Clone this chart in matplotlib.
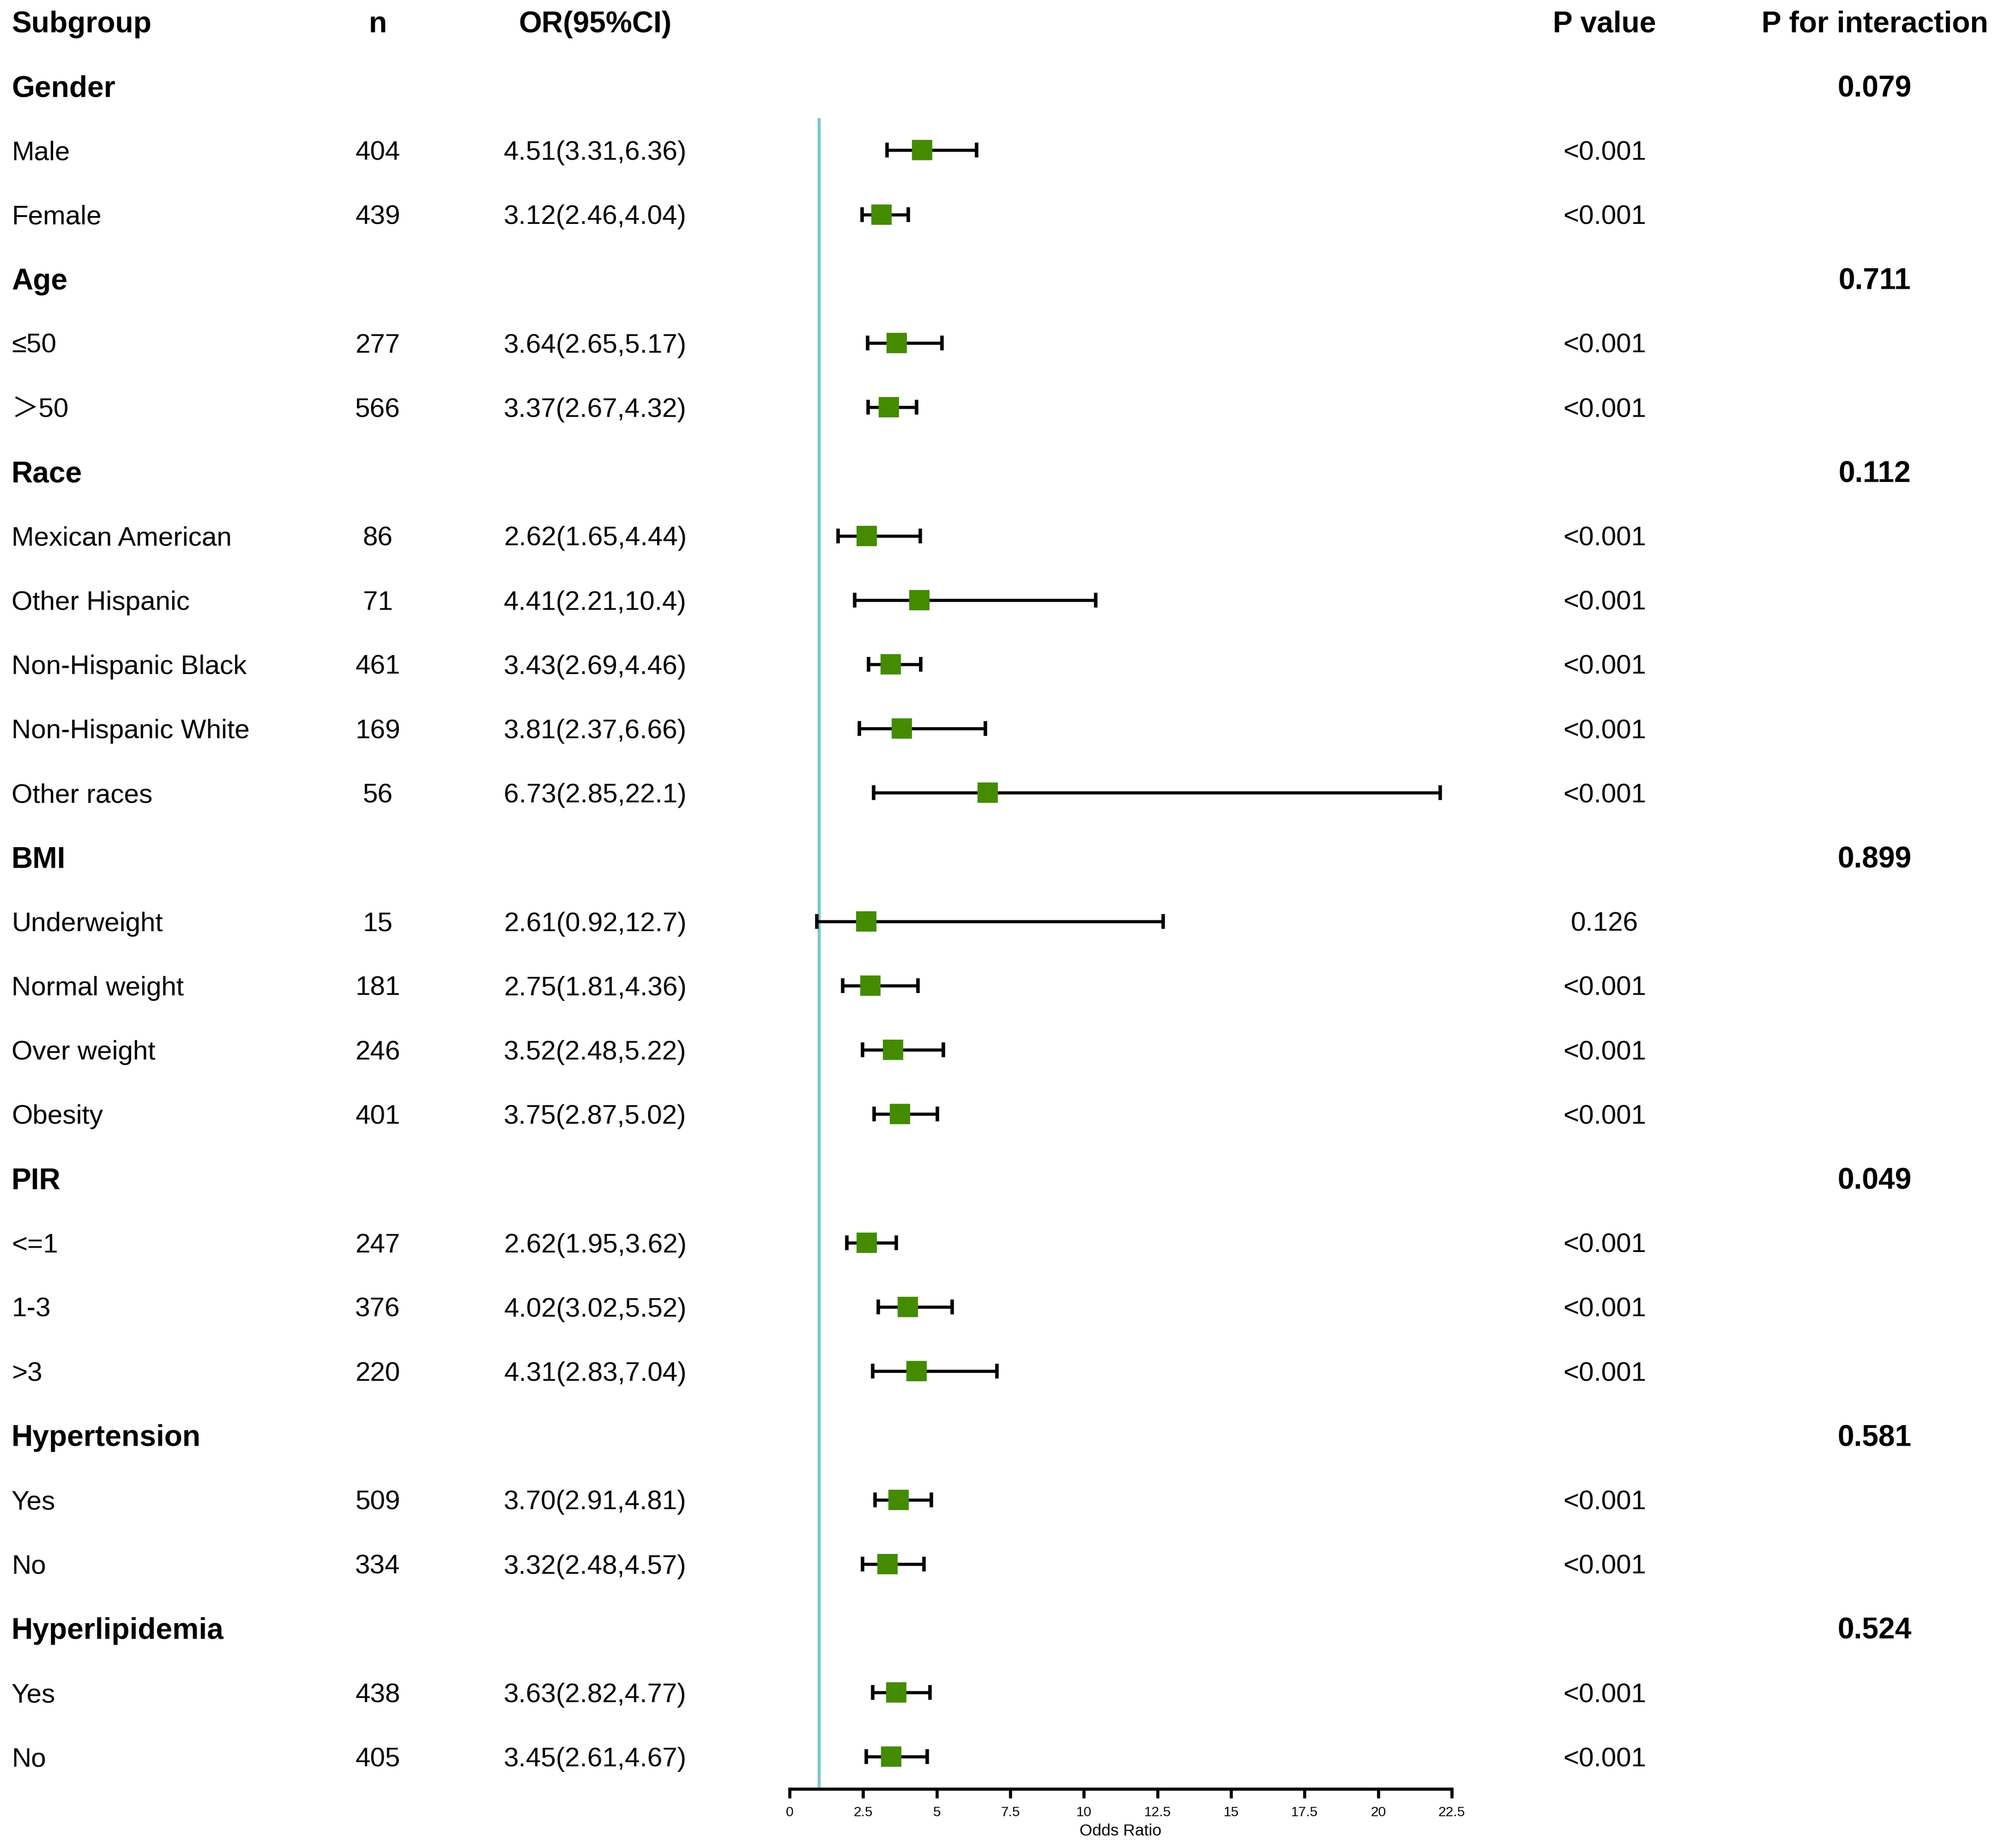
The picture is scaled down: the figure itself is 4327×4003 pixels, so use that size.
import numpy as np
import matplotlib
matplotlib.use("Agg")
import matplotlib.pyplot as plt

plt.rcParams['font.family'] = ['Liberation Sans', 'Noto Sans CJK SC', 'DejaVu Sans']

# ---------------- data ----------------
labels = ["Gender", "Male", "Female",
          "Age", "≤50", "＞50",
          "Race", "Mexican American", "Other Hispanic", "Non-Hispanic Black",
          "Non-Hispanic White", "Other races",
          "BMI", "Underweight", "Normal weight", "Over weight", "Obesity",
          "PIR", "<=1", "1-3", ">3",
          "Hypertension", "Yes", "No",
          "Hyperlipidemia", "Yes", "No"]
is_group = [True, False, False,
            True, False, False,
            True, False, False, False, False, False,
            True, False, False, False, False,
            True, False, False, False,
            True, False, False,
            True, False, False]
n_vals = [None, 404, 439,
          None, 277, 566,
          None, 86, 71, 461, 169, 56,
          None, 15, 181, 246, 401,
          None, 247, 376, 220,
          None, 509, 334,
          None, 438, 405]
or_vals = [None, 4.51, 3.12,
           None, 3.64, 3.37,
           None, 2.62, 4.41, 3.43, 3.81, 6.73,
           None, 2.61, 2.75, 3.52, 3.75,
           None, 2.62, 4.02, 4.31,
           None, 3.70, 3.32,
           None, 3.63, 3.45]
lo_vals = [None, 3.31, 2.46,
           None, 2.65, 2.67,
           None, 1.65, 2.21, 2.69, 2.37, 2.85,
           None, 0.92, 1.81, 2.48, 2.87,
           None, 1.95, 3.02, 2.83,
           None, 2.91, 2.48,
           None, 2.82, 2.61]
hi_vals = [None, 6.36, 4.04,
           None, 5.17, 4.32,
           None, 4.44, 10.4, 4.46, 6.66, 22.1,
           None, 12.7, 4.36, 5.22, 5.02,
           None, 3.62, 5.52, 7.04,
           None, 4.81, 4.57,
           None, 4.77, 4.67]
p_vals = [None, "<0.001", "<0.001",
          None, "<0.001", "<0.001",
          None, "<0.001", "<0.001", "<0.001", "<0.001", "<0.001",
          None, "0.126", "<0.001", "<0.001", "<0.001",
          None, "<0.001", "<0.001", "<0.001",
          None, "<0.001", "<0.001",
          None, "<0.001", "<0.001"]
p_inter = ["0.079", None, None,
           "0.711", None, None,
           "0.112", None, None, None, None, None,
           "0.899", None, None, None, None,
           "0.049", None, None, None,
           "0.581", None, None,
           "0.524", None, None]
headers = ["Subgroup", "n", "OR(95%CI)", "P value", "P for interaction"]
xticks = [0, 2.5, 5, 7.5, 10, 12.5, 15, 17.5, 20, 22.5]
xticklabels = ["0", "2.5", "5", "7.5", "10", "12.5", "15", "17.5", "20", "22.5"]

# ---------------- layout ----------------
W, H, DPI = 4327, 4003, 300
fig = plt.figure(figsize=(W / DPI, H / DPI), dpi=DPI)
row0_px, row_h_px = 47.0, 139.2
ytop = -row0_px / row_h_px
ybot = (H - row0_px) / row_h_px

tab = fig.add_axes([0, 0, 1, 1])
tab.set_xlim(0, W)
tab.set_ylim(ybot, ytop)
tab.axis('off')

x0_px, x1_px = 1710, 3144
ax = fig.add_axes([x0_px / W, 0, (x1_px - x0_px) / W, 1])
ax.set_xlim(0, 22.5)
ax.set_ylim(ybot, ytop)
ax.patch.set_alpha(0)

col_sub, col_n, col_or, col_p, col_pi = 25, 818, 1289, 3475, 4060
norm_fs, bold_fs = 14.0, 15.4


def base_off(fs):
    # shift from cap-centre to baseline, in row units
    return (fs * 0.716 / 2) / 72 * DPI / row_h_px


def fmt(v):
    return f"{v:.1f}" if v >= 10 else f"{v:.2f}"


# headers (row 0)
hy = 0 + base_off(bold_fs)
tab.text(col_sub, hy, headers[0], fontsize=bold_fs, fontweight='bold', ha='left', va='baseline')
tab.text(col_n, hy, headers[1], fontsize=bold_fs, fontweight='bold', ha='center', va='baseline')
tab.text(col_or, hy, headers[2], fontsize=bold_fs, fontweight='bold', ha='center', va='baseline')
tab.text(col_p, hy, headers[3], fontsize=bold_fs, fontweight='bold', ha='center', va='baseline')
tab.text(col_pi, hy, headers[4], fontsize=bold_fs, fontweight='bold', ha='center', va='baseline')

rows = np.arange(1, len(labels) + 1)
for r, lab, g, n, o, lo, hi, p, pi in zip(rows, labels, is_group, n_vals, or_vals,
                                          lo_vals, hi_vals, p_vals, p_inter):
    if g:
        yb = r + base_off(bold_fs)
        tab.text(col_sub, yb, lab, fontsize=bold_fs, fontweight='bold', ha='left', va='baseline')
        if pi is not None:
            tab.text(col_pi, yb, pi, fontsize=bold_fs, fontweight='bold', ha='center', va='baseline')
    else:
        yb = r + base_off(norm_fs)
        tab.text(col_sub, yb, lab, fontsize=norm_fs, ha='left', va='baseline')
        tab.text(col_n, yb, str(n), fontsize=norm_fs, ha='center', va='baseline')
        tab.text(col_or, yb, f"{fmt(o)}({fmt(lo)},{fmt(hi)})", fontsize=norm_fs,
                 ha='center', va='baseline')
        tab.text(col_p, yb, p, fontsize=norm_fs, ha='center', va='baseline')

# forest marks
sel = [i for i, g in enumerate(is_group) if not g]
yr = rows[sel]
orr = np.array([or_vals[i] for i in sel])
lor = np.array([lo_vals[i] for i in sel])
hir = np.array([hi_vals[i] for i in sel])

n_rows = len(labels)
ax.vlines(1, 1.5, n_rows + 0.5, color='#7AC5CD', lw=1.55, zorder=1)
ax.errorbar(orr, yr, xerr=[orr - lor, hir - orr], fmt='none', ecolor='black',
            elinewidth=1.6, capsize=3.9, capthick=1.8, zorder=2)
ax.plot(orr, yr, ls='none', marker='s', markersize=10.6, color='#458B00',
        markeredgewidth=0, zorder=3)

# axis
for s in ['top', 'left', 'right']:
    ax.spines[s].set_visible(False)
ax.spines['bottom'].set_position(('data', n_rows + 0.5))
ax.spines['bottom'].set_bounds(0, 22.5)
ax.spines['bottom'].set_linewidth(1.6)
ax.set_yticks([])
ax.set_xticks(xticks)
ax.set_xticklabels(xticklabels)
ax.tick_params(axis='x', direction='out', length=4.8, width=1.6, labelsize=7.2, pad=4)
ax.text(11.25, 28.16, "Odds Ratio", fontsize=8.5, ha='center', va='center')

fig.savefig("out.png", dpi=DPI)
